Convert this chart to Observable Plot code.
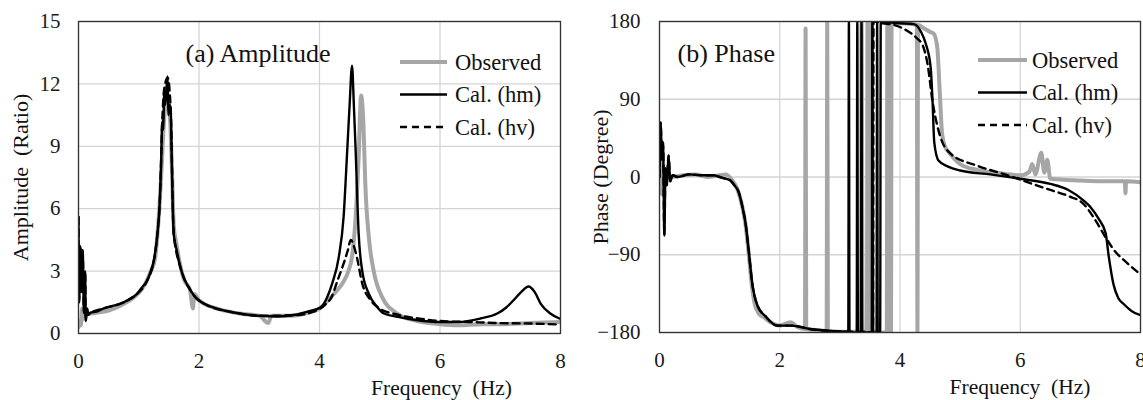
<!DOCTYPE html>
<html><head><meta charset="utf-8">
<script src="https://cdn.jsdelivr.net/npm/d3@7"></script>
<script src="https://cdn.jsdelivr.net/npm/@observablehq/plot@0.6"></script>
<style>
body{margin:0;background:#fff;}
#wrap{position:relative;width:1143px;height:400px;display:flex;overflow:hidden;}
.panel{position:relative;}
</style></head><body><div id="wrap"></div>
<script>
// ---------- tick labels ----------
const freqTicks = [0, 2, 4, 6, 8];
const ampTicks = [0, 3, 6, 9, 12, 15];
const phaseTicks = [-180, -90, 0, 90, 180];
const seriesNames = ["Observed", "Cal. (hm)", "Cal. (hv)"];

// ---------- (a) Amplitude ----------
const ampObsF = [0.00,0.02,0.04,0.06,0.08,0.10,0.15,0.30,0.50,0.70,0.90,1.00,1.10,1.20,1.27,1.30,1.35,1.38,1.41,1.43,1.46,1.49,1.52,1.55,1.58,1.62,1.68,1.75,1.85,1.90,1.92,2.00,2.10,2.30,2.50,2.70,3.00,3.15,3.20,3.50,3.80,4.00,4.19,4.30,4.40,4.48,4.54,4.60,4.65,4.69,4.73,4.76,4.82,4.90,5.04,5.29,5.62,6.00,6.30,6.70,7.00,7.50,8.00];
const ampObsV = [0.3,0.6,0.4,1.2,0.7,1.0,0.95,1.0,1.1,1.35,1.7,1.95,2.35,3.0,3.6,4.4,6.4,8.0,9.8,10.6,11.2,11.0,10.3,8.0,5.2,4.4,3.4,2.6,2.1,1.2,1.9,1.6,1.4,1.2,1.05,0.95,0.85,0.5,0.85,0.85,1.0,1.2,1.75,2.1,2.5,3.0,3.7,5.6,8.5,11.44,10.0,7.2,4.6,3.0,1.75,0.96,0.6,0.45,0.4,0.45,0.45,0.5,0.55];

const ampHmF = [0.00,0.01,0.03,0.05,0.07,0.09,0.11,0.12,0.14,0.16,0.20,0.30,0.41,0.60,0.75,0.90,0.97,1.05,1.14,1.20,1.25,1.31,1.35,1.37,1.39,1.41,1.42,1.44,1.46,1.48,1.49,1.51,1.53,1.55,1.58,1.63,1.69,1.76,1.86,1.95,2.08,2.30,2.60,3.00,3.30,3.60,3.80,4.02,4.12,4.21,4.32,4.40,4.46,4.50,4.54,4.57,4.60,4.65,4.71,4.82,4.95,5.07,5.30,5.60,6.00,6.30,6.67,6.95,7.10,7.22,7.35,7.47,7.57,7.67,7.83,8.00];
const ampHmV = [5.6,1.5,4.2,2.0,4.0,1.0,3.0,0.6,1.2,0.9,1.0,1.05,1.2,1.35,1.5,1.75,1.9,2.2,2.55,3.0,3.5,4.8,6.4,8.0,10.2,9.8,11.7,11.0,11.8,12.36,10.5,11.0,10.8,8.0,4.8,4.0,3.2,2.6,2.07,1.7,1.44,1.2,1.0,0.85,0.82,0.9,1.05,1.26,1.7,2.4,3.67,5.6,8.8,11.0,12.88,11.0,8.8,4.8,3.0,1.9,1.3,0.96,0.8,0.65,0.55,0.55,0.72,0.96,1.25,1.6,2.0,2.26,2.0,1.44,0.96,0.7];

const ampHvF = [0.00,0.01,0.03,0.05,0.07,0.09,0.11,0.12,0.14,0.16,0.20,0.41,0.75,0.97,1.14,1.25,1.31,1.35,1.39,1.42,1.48,1.53,1.58,1.69,1.86,2.08,2.60,3.00,3.60,3.90,4.10,4.20,4.30,4.40,4.47,4.52,4.56,4.62,4.71,4.85,5.00,5.30,5.70,6.00,6.50,7.00,7.50,8.00];
const ampHvV = [5.6,1.5,4.2,2.0,4.0,1.0,3.0,0.6,1.2,0.9,1.0,1.2,1.5,1.9,2.55,3.5,4.8,6.4,10.2,11.7,12.3,10.8,4.8,3.2,2.07,1.44,1.0,0.85,0.88,1.05,1.4,1.75,2.55,3.36,4.0,4.5,4.3,3.67,2.4,1.6,1.2,0.9,0.7,0.6,0.55,0.5,0.48,0.43];

// ---------- (b) Phase ----------
const phObsF = [0.00,0.02,0.04,0.06,0.10,0.20,0.40,0.60,0.80,1.00,1.10,1.20,1.30,1.38,1.43,1.48,1.53,1.58,1.65,1.75,1.80,1.90,2.00,2.18,2.30,2.42,2.43,2.44,2.60,2.78,2.79,2.80,3.00,3.20,3.35,3.36,3.38,3.45,3.46,3.48,3.52,3.53,3.55,3.78,3.79,3.82,3.85,3.86,3.90,4.00,4.20,4.28,4.29,4.30,4.40,4.50,4.56,4.62,4.66,4.70,4.75,4.82,5.00,5.30,5.60,6.00,6.15,6.20,6.25,6.35,6.40,6.45,6.50,7.00,7.50,7.74,7.75,7.76,8.00];
const phObsV = [0,30,-20,10,5,0,2,3,0,2,3,-3,-15,-35,-55,-86,-122,-146,-158,-163,-166,-170,-172,-168,-174,-176,172,-176,-177,-178,180,-178,-179,-179,-179,180,-180,-180,180,-180,-180,180,-180,-180,180,-180,-180,180,178,178,177,176,-180,176,172,168,166,150,100,50,35,28,15,8,5,2,6,15,3,28,5,20,-2,-4,-5,-5,-19,-5,-6];

const phHmF = [0.00,0.02,0.04,0.06,0.08,0.10,0.12,0.15,0.18,0.22,0.30,0.50,0.70,0.90,1.00,1.10,1.18,1.25,1.32,1.38,1.43,1.48,1.54,1.63,1.76,1.96,2.20,2.50,2.80,3.10,3.14,3.15,3.16,3.28,3.29,3.30,3.35,3.36,3.37,3.53,3.54,3.55,3.61,3.62,3.63,3.67,3.68,3.80,4.00,4.23,4.35,4.43,4.51,4.54,4.57,4.64,4.80,5.00,5.50,6.00,6.50,6.80,7.05,7.17,7.30,7.42,7.47,7.55,7.63,7.72,7.85,8.00];
const phHmV = [0,63,20,40,-68,10,-10,25,-5,2,0,3,2,2,0,-2,-4,-10,-18,-35,-53,-83,-122,-149,-161,-172,-172,-176,-178,-179,-179,180,-180,-180,180,-180,-180,180,-180,-180,180,-180,-180,180,-180,-180,180,179,178,177,168,154,127,90,40,19,12,7.5,3,-2,-8,-15,-27,-35,-48,-65,-91,-124,-140,-147,-155,-160];

const phHvF = [0.00,0.02,0.04,0.06,0.08,0.10,0.12,0.15,0.18,0.22,0.30,0.50,0.70,0.90,1.00,1.10,1.18,1.25,1.32,1.38,1.43,1.48,1.54,1.63,1.76,1.96,2.20,2.50,2.80,3.10,3.40,3.55,3.56,3.70,3.90,4.10,4.29,4.38,4.46,4.54,4.64,4.84,5.29,5.79,6.20,6.50,6.80,7.05,7.25,7.42,7.60,7.72,7.85,7.97];
const phHvV = [0,63,20,40,-68,10,-10,25,-5,2,0,3,2,2,0,-2,-4,-10,-18,-35,-53,-83,-122,-149,-161,-172,-172,-176,-178,-179,-179,-180,180,178,176,170,160,152,130,88,54,27,13,2,-8,-15,-22,-31,-50,-70,-88,-96,-104,-111];

// ---------- styles ----------
const FONT = "Liberation Serif, Times New Roman, serif";
const seriesStyle = [
  {stroke: "#a6a6a6", strokeWidth: 4},
  {stroke: "#000000", strokeWidth: 2.4},
  {stroke: "#000000", strokeWidth: 2.4, strokeDasharray: "7,5"}
];

const toRows = (F, V) => F.map((f, i) => ({f, v: V[i]}));

function makePanel(o) {
  const div = document.createElement("div");
  div.className = "panel";
  div.style.width = o.width + "px";
  div.style.height = "400px";
  const chart = Plot.plot({
    width: o.width, height: 400,
    marginLeft: o.ml, marginRight: o.mr, marginTop: 21, marginBottom: o.mb,
    style: {fontFamily: FONT, fontSize: "21px", color: "#1a1a1a", background: "white"},
    x: {domain: [0, 8]},
    y: {domain: o.yDomain},
    marks: [
      Plot.gridX(freqTicks, {stroke: "#d4d4d4", strokeOpacity: 1, strokeWidth: 1.3}),
      Plot.gridY(o.yTicks, {stroke: "#d4d4d4", strokeOpacity: 1, strokeWidth: 1.3}),
      Plot.axisX(freqTicks, {tickSize: 0, tickPadding: 20, label: null, fontSize: 21}),
      Plot.axisY(o.yTicks, {tickSize: 0, tickPadding: o.ypad, label: null, fontSize: 21}),
      ...o.series.map((s, i) => Plot.line(s, {x: "f", y: "v", curve: "monotone-x", clip: true, ...seriesStyle[i]})),
      Plot.frame({stroke: "#333", strokeWidth: 1.3}),
      Plot.text([o.title], {frameAnchor: "top-left", dx: o.titleDx, dy: 32, textAnchor: "start", lineAnchor: "middle", fill: "#111", fontSize: 26}),
      Plot.text([o.yLabel], {frameAnchor: "left", rotate: -90, dx: o.yLabelDx, textAnchor: "middle", lineAnchor: "middle", fill: "#111", fontSize: 22}),
      Plot.text(["Frequency  (Hz)"], {frameAnchor: "bottom", dx: o.xLabelDx, dy: 55, textAnchor: "middle", lineAnchor: "middle", fill: "#111", fontSize: 21.5})
    ]
  });
  div.appendChild(chart);

  // legend
  const lg = d3.select(div).append("svg")
    .style("position", "absolute").style("left", o.legLeft + "px").style("top", (o.legTop - 16) + "px")
    .attr("width", 160).attr("height", 3 * o.legGap + 20)
    .style("font-family", FONT).style("font-size", "22.5px");
  seriesNames.forEach((name, i) => {
    const cy = 16 + i * o.legGap;
    const st = seriesStyle[i];
    lg.append("line").attr("x1", 0).attr("x2", o.legLen).attr("y1", cy).attr("y2", cy)
      .attr("stroke", st.stroke).attr("stroke-width", st.strokeWidth)
      .attr("stroke-dasharray", st.strokeDasharray || null);
    lg.append("text").attr("x", o.legLen + o.legTextGap).attr("y", cy).attr("dy", "0.35em")
      .attr("fill", "#111").text(name);
  });
  return div;
}

const wrap = document.getElementById("wrap");
wrap.appendChild(makePanel({
  width: 571, ml: 78, mr: 11, mb: 67, ypad: 18,
  yDomain: [0, 15], yTicks: ampTicks,
  series: [toRows(ampObsF, ampObsV), toRows(ampHmF, ampHmV), toRows(ampHvF, ampHvV)],
  title: "(a) Amplitude", titleDx: 107,
  yLabel: "Amplitude  (Ratio)", yLabelDx: -58, xLabelDx: 122,
  legLeft: 400, legTop: 62, legGap: 32.5, legLen: 47, legTextGap: 8
}));
wrap.appendChild(makePanel({
  width: 572, ml: 88, mr: 3, mb: 68, ypad: 19,
  yDomain: [-180, 180], yTicks: phaseTicks,
  series: [toRows(phObsF, phObsV), toRows(phHmF, phHmV), toRows(phHvF, phHvV)],
  title: "(b) Phase", titleDx: 18,
  yLabel: "Phase (Degree)", yLabelDx: -59, xLabelDx: 120,
  legLeft: 407, legTop: 60, legGap: 32.5, legLen: 49, legTextGap: 5
}));
</script></body></html>
